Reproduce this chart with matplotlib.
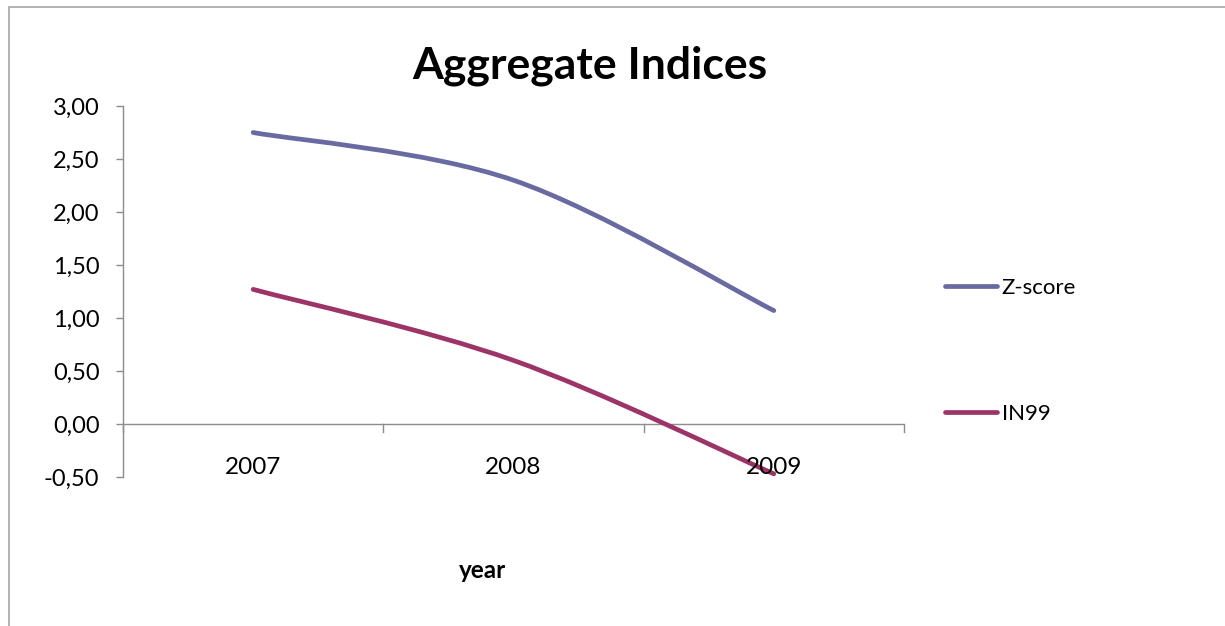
import matplotlib
matplotlib.use("Agg")
import matplotlib.pyplot as plt
import numpy as np
from matplotlib.path import Path
from matplotlib.patches import PathPatch, Rectangle
from matplotlib.lines import Line2D
from matplotlib.ticker import FuncFormatter
import matplotlib.transforms as mtransforms

years = ["2007", "2008", "2009"]
z_score = [2.75, 2.30, 1.07]
in99 = [1.27, 0.60, -0.47]
series_names = ["Z-score", "IN99"]
series_colors = ["#6a6aa2", "#9c3467"]
y_ticks = [-0.5, 0.0, 0.5, 1.0, 1.5, 2.0, 2.5, 3.0]

plt.rcParams["font.family"] = ["Lato", "DejaVu Sans"]

W, H = 1225, 626
fig = plt.figure(figsize=(W / 100, H / 100), dpi=100)

# outer chart frame
fig.patches.append(Rectangle((9 / W, -0.05), 1.2, 1 - 7 / H + 0.05,
                             transform=fig.transFigure, fill=False,
                             edgecolor="#a6a6a6", linewidth=1.2))

left, right, top, bottom = 123, 904, 106, 477
ax = fig.add_axes([left / W, 1 - bottom / H, (right - left) / W, (bottom - top) / H])
ax.set_xlim(-0.5, 2.5)
ax.set_ylim(-0.5, 3.0)


def smooth_path(xs, ys):
    # cubic Bezier spline through the points (Catmull-Rom style)
    pts = np.column_stack([xs, ys]).astype(float)
    n = len(pts)
    verts = [pts[0]]
    codes = [Path.MOVETO]
    for i in range(n - 1):
        p0 = pts[max(i - 1, 0)]
        p1 = pts[i]
        p2 = pts[i + 1]
        p3 = pts[min(i + 2, n - 1)]
        c1 = p1 + (p2 - p0) / 6.0
        c2 = p2 - (p3 - p1) / 6.0
        verts += [c1, c2, p2]
        codes += [Path.CURVE4] * 3
    return Path(verts, codes)


xs = np.arange(len(years))
for vals, color in zip([z_score, in99], series_colors):
    patch = PathPatch(smooth_path(xs, vals), facecolor="none", edgecolor=color,
                      linewidth=3.4, capstyle="round", joinstyle="round", zorder=3)
    ax.add_patch(patch)

# axes styling
for s in ["top", "right", "bottom"]:
    ax.spines[s].set_visible(False)
ax.spines["left"].set_color("#8c8c8c")
ax.spines["left"].set_linewidth(1.0)
ax.set_yticks(y_ticks)
ax.yaxis.set_major_formatter(FuncFormatter(lambda v, p: f"{v:.2f}".replace(".", ",")))
ax.tick_params(axis="y", direction="out", length=5, color="#8c8c8c", width=1.0,
               labelsize=17, pad=12)

# horizontal category axis at zero
ax.axhline(0, color="#8c8c8c", linewidth=1.0, zorder=1)
ax.set_xticks([])
for b in [-0.5, 0.5, 1.5, 2.5]:
    ax.plot([b, b], [0, -0.08], color="#8c8c8c", linewidth=1.0, clip_on=False)
lab_trans = mtransforms.blended_transform_factory(ax.transData, ax.transAxes)
for i, y in enumerate(years):
    ax.text(i, 10 / (bottom - top), y, transform=lab_trans, ha="center", va="center",
            fontsize=17.5, zorder=4)

fig.text(590 / W, 1 - 66 / H, "Aggregate Indices", ha="center", va="center",
         fontsize=32, fontweight="bold")
fig.text(483 / W, 1 - 570 / H, "year", ha="center", va="center",
         fontsize=17.5, fontweight="bold")

handles = [Line2D([], [], color=c, linewidth=3.4, solid_capstyle="round") for c in series_colors]
fig.legend(handles, series_names, loc="center left",
           bbox_to_anchor=(945 / W, 1 - 351 / H), frameon=False, fontsize=16,
           handlelength=2.35, handletextpad=0.2, labelspacing=4.75,
           borderpad=0, borderaxespad=0)

fig.savefig("out.png", dpi=100)
